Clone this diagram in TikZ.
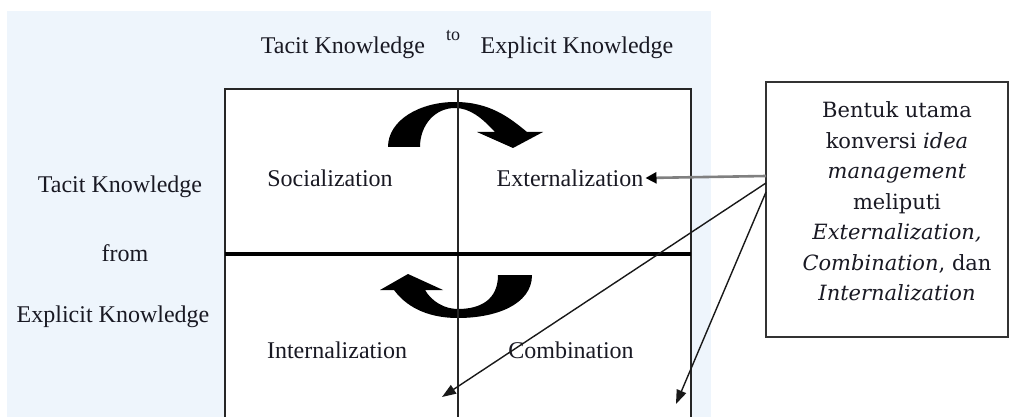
\documentclass[tikz,border=0pt]{standalone}
\usepackage{fontspec}
\setmainfont{Liberation Serif}
\newfontfamily\boxfont{DejaVu Serif}
\usetikzlibrary{arrows.meta}
\definecolor{bgblue}{RGB}{238,245,252}
\definecolor{txt}{RGB}{25,25,35}
\begin{document}
\begin{tikzpicture}[x=1pt,y=-1pt,
 lbl/.style={font=\fontsize{24}{28}\selectfont, inner sep=0pt, text=txt},
 smalllbl/.style={font=\fontsize{18}{20}\selectfont, inner sep=0pt, text=txt},
 boxtxt/.style={font=\boxfont\fontsize{21}{30.5}\selectfont, inner sep=0pt, align=center, text=txt},
 notebox/.style={draw=black!80, line width=1.8pt, fill=white, inner sep=0pt},
 bigarrow/.style={fill=black, draw=none},
 gridframe/.style={draw=black!85, line width=1.8pt},
 gridmid/.style={draw=black!85, line width=1.4pt},
 gridhor/.style={draw=black, line width=3.5pt},
 grayptr/.style={draw=black!50, line width=2.6pt, -{Triangle[length=11pt,width=11pt,color=black]}},
 ptr/.style={draw=black!90, line width=1.4pt, -{Triangle[length=14pt,width=10pt]}}]
\useasboundingbox (0,0) rectangle (1017,417);
\clip (0,0) rectangle (1017,417);
\fill[white] (0,0) rectangle (1017,417);
\fill[bgblue] (7,11) rectangle (711,430);
% grid
\fill[white] (225,89) rectangle (691,430);
\draw[gridframe] (225,89) rectangle (691,430);
% big curved arrows
\path[bigarrow] (388,147) .. controls (388,120) and (420,102) .. (455,102)
  .. controls (490,102) and (510,118) .. (527,132)
  -- (543,132) -- (513,148) -- (477,132) -- (495,132)
  .. controls (482,118) and (470,108) .. (455,108)
  .. controls (435,108) and (420,125) .. (420,147) -- cycle;
\path[bigarrow] (498,275) -- (532,275)
  .. controls (532,305) and (495,318) .. (458,318)
  .. controls (425,318) and (405,305) .. (394,290)
  -- (380,290) -- (408,274) -- (443,290) -- (425,290)
  .. controls (432,302) and (445,309) .. (458,309)
  .. controls (480,309) and (498,300) .. (498,275) -- cycle;
\draw[gridmid] (458,89) -- (458,430);
\draw[gridhor] (225,254) -- (691,254);
% headings
\node[lbl] (tacitTop) at (343,48) {Tacit Knowledge};
\node[smalllbl] (to) at (453,36) {to};
\node[lbl] (explicitTop) at (577,48) {Explicit Knowledge};
\node[lbl] (tacitLeft) at (120,187) {Tacit Knowledge};
\node[lbl] (from) at (125,253) {from};
\node[lbl] (explicitLeft) at (113,317) {Explicit Knowledge};
% quadrant labels
\node[lbl] (soc) at (330,178) {Socialization};
\node[lbl] (ext) at (570,178) {Externalization};
\node[lbl] (int) at (337,350) {Internalization};
\node[lbl] (comb) at (571,350) {Combination};
% note box
\node[notebox, minimum width=242pt, minimum height=255pt] (note) at (887,209.5) {};
\node[boxtxt] (notetext) at (897,201.5) {Bentuk utama\\konversi \textit{idea}\\\textit{management}\\meliputi\\\textit{Externalization,}\\\textit{Combination}, dan\\\textit{Internalization}};
% connectors
\coordinate (s1) at (766,176);
\coordinate (s2) at (766,183);
\coordinate (s3) at (766,192);
\coordinate (t2) at (442,397);
\coordinate (t3) at (676,404);
\draw[grayptr] (s1) -- ([xshift=2pt]ext.east);
\draw[ptr] (s2) -- (t2);
\draw[ptr] (s3) -- (t3);
\end{tikzpicture}
\end{document}
